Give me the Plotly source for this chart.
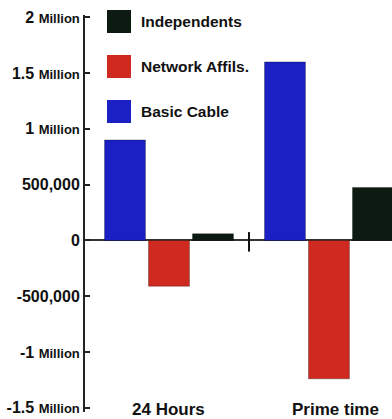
import plotly.graph_objects as go

# Change in viewers by daypart
categories = ["24 Hours", "Prime time"]
series_names = ["Basic Cable", "Network Affils.", "Independents"]
basic_cable = [900000, 1600000]
network_affils = [-410000, -1240000]
independents = [60000, 475000]
colors = ["#1a20c4", "#d02a20", "#0c1a12"]

tick_vals = [2000000, 1500000, 1000000, 500000, 0, -500000, -1000000, -1500000]
tick_text = ["2 Million", "1.5 Million", "1 Million", "500,000", "0",
             "-500,000", "-1 Million", "-1.5 Million"]

FONT = "Liberation Sans, Arial, sans-serif"

PLOT_TOP, PLOT_BOTTOM = 15, 412
PLOT_H = PLOT_BOTTOM - PLOT_TOP
AXIS_X, PLOT_W = 85, 307


def fmt_tick(t):
    # numbers full size, the word "Million" a touch smaller
    if "Million" in t:
        num = t.replace(" Million", "")
        return f"<b>{num} <span style='font-size:13px'>Million</span></b>"
    return f"<b>{t}</b>"


def py(pixel_y):
    return (PLOT_BOTTOM - pixel_y) / PLOT_H


def px(pixel_x):
    return (pixel_x - AXIS_X) / PLOT_W


fig = go.Figure()
xpos = list(range(len(categories)))
for name, vals, col in zip(series_names, [basic_cable, network_affils, independents], colors):
    fig.add_trace(go.Bar(
        x=xpos, y=vals, name=name, marker_color=col,
        marker_line_color="rgba(0,0,0,0.3)", marker_line_width=1,
        showlegend=False,
    ))

# divider between the two dayparts on the zero line
fig.add_shape(type="line", xref="x", yref="y", x0=0.5, x1=0.5,
              y0=-100000, y1=75000, line=dict(color="#111", width=2))

# category labels
for i, cat in enumerate(categories):
    fig.add_annotation(x=i + (0.04 if i == 1 else 0), y=py(409), xref="x", yref="paper",
                       text=f"<b>{cat}</b>", showarrow=False, yanchor="middle",
                       font=dict(family=FONT, size=17, color="#111"))

# legend, drawn as large swatches with labels
legend_order = [2, 1, 0]
for k, idx in enumerate(legend_order):
    top = 10 + 45 * k
    fig.add_shape(type="rect", xref="paper", yref="paper",
                  x0=px(107), x1=px(131), y0=py(top + 23), y1=py(top),
                  fillcolor=colors[idx], line=dict(width=0))
    fig.add_annotation(xref="paper", yref="paper", x=px(139),
                       y=py(top + 11.5), xanchor="left", yanchor="middle",
                       text=f"<b>{series_names[idx]}</b>", showarrow=False,
                       font=dict(family=FONT, size=15.5, color="#111"))

fig.update_layout(
    width=392, height=419,
    margin=dict(l=AXIS_X, r=0, t=PLOT_TOP, b=419 - PLOT_BOTTOM),
    paper_bgcolor="white", plot_bgcolor="white",
    barmode="group", bargap=0.175, bargroupgap=0.07,
    font=dict(family=FONT, color="#111"),
    xaxis=dict(range=[-0.525, 1.394], showticklabels=False, showgrid=False,
               zeroline=False, showline=False, ticks=""),
    yaxis=dict(range=[-1537000, 2020000], tickvals=tick_vals,
               ticktext=[fmt_tick(t) for t in tick_text],
               tickfont=dict(family=FONT, size=16, color="#111"),
               showgrid=False, showline=True, linecolor="#222", linewidth=2,
               ticks="inside", ticklen=5, tickwidth=2, tickcolor="#222",
               zeroline=True, zerolinecolor="#333", zerolinewidth=2),
)

fig.write_html("out.html")
